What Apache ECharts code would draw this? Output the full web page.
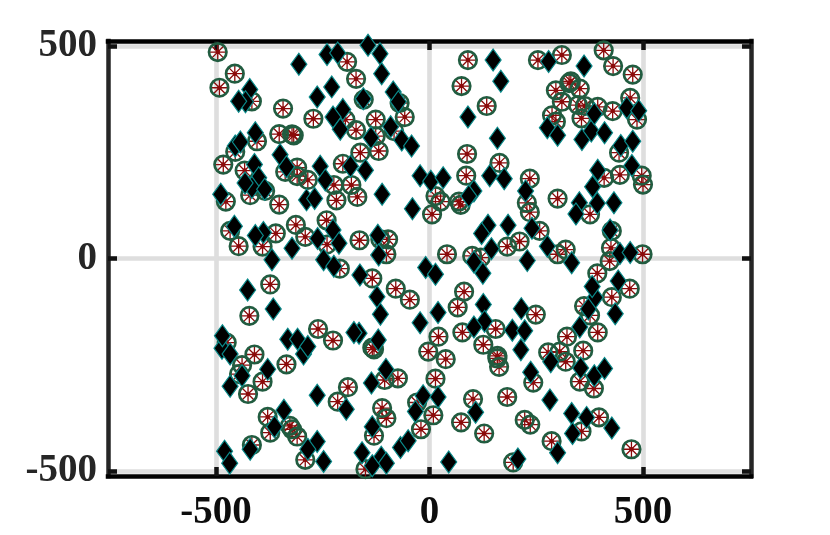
<!DOCTYPE html>
<html><head><meta charset="utf-8">
<style>html,body{margin:0;padding:0;background:#fff}#c{width:830px;height:535px}</style>
<script src="https://cdn.jsdelivr.net/npm/echarts@6/dist/echarts.min.js"></script>
</head><body><div id="c"></div>
<script>
const tickValues = [-500, 0, 500];
const wheelTopLeft = [[-496,486],[-456,435],[-492,402],[-416,370],[-343,353],[-272,329],[-172,423],[-154,374],[-70,366],[-58,333],[-126,327],[-197,327],[-193,463],[-172,302],[-83,300],[-126,288],[-352,293],[-322,292],[-318,290],[-404,276],[-455,251],[-483,221],[-162,249],[-119,253],[-203,223],[-433,207],[-310,214],[-338,204],[-310,194],[-285,185],[-224,173],[-183,173],[-169,145],[-218,137],[-420,149],[-385,159],[-352,127],[-477,134],[-313,79],[-241,90],[-467,65],[-447,29],[-360,59],[-391,28],[-291,51],[-240,33],[-164,43],[-97,45],[-101,10],[-115,45]];
const wheelTopRight = [[90,467],[75,406],[134,359],[88,246],[164,225],[86,195],[235,188],[254,467],[310,479],[408,490],[430,453],[476,433],[296,396],[331,417],[327,413],[352,400],[310,369],[348,361],[364,359],[394,357],[429,347],[470,378],[486,327],[287,337],[296,322],[356,330],[444,249],[409,190],[446,197],[497,195],[500,174],[300,141],[228,131],[235,109],[376,104],[14,147],[26,134],[69,134],[73,126],[6,104],[258,65],[211,40],[182,28],[41,10],[100,6],[120,2],[300,10],[319,21],[425,25],[427,65],[499,10],[422,-6]];
const wheelBottomLeft = [[-210,-24],[-134,-47],[-79,-71],[-46,-97],[-373,-61],[-422,-135],[-261,-166],[-226,-193],[-335,-249],[-410,-226],[-475,-198],[-439,-251],[-446,-272],[-391,-290],[-425,-319],[-191,-303],[-215,-337],[-105,-286],[-74,-282],[-130,-214],[-134,-210],[-111,-352],[-101,-376],[-130,-417],[-379,-373],[-373,-410],[-327,-394],[-322,-402],[-310,-419],[-416,-439],[-291,-474],[-150,-496],[-3,-219],[-29,-339],[-20,-402]];
const wheelBottomRight = [[81,-78],[66,-115],[249,-132],[155,-166],[77,-174],[21,-184],[126,-203],[38,-237],[159,-229],[159,-235],[163,-255],[14,-283],[9,-369],[102,-331],[182,-326],[74,-386],[128,-412],[223,-380],[236,-391],[286,-430],[196,-480],[473,-449],[356,-407],[397,-374],[243,-292],[352,-290],[385,-306],[360,-217],[278,-221],[305,-219],[319,-243],[322,-184],[394,-174],[376,-134],[362,-112],[427,-91],[469,-71],[393,-35]];
const diamondTopLeft = [[-306,457],[-240,480],[-215,484],[-144,502],[-116,482],[-112,435],[-229,404],[-263,380],[-421,398],[-431,369],[-447,370],[-155,376],[-85,392],[-73,369],[-203,351],[-226,333],[-209,304],[-91,310],[-137,284],[-65,279],[-42,265],[-408,296],[-455,265],[-443,274],[-350,244],[-335,216],[-256,217],[-185,217],[-150,208],[-410,221],[-22,195],[3,182],[-400,190],[-416,167],[-432,178],[-386,163],[-489,151],[-244,185],[-111,151],[-288,138],[-269,141],[-40,117],[-457,76],[-389,61],[-408,54],[-262,47],[-226,67],[-212,36],[-121,55],[-322,24],[-369,-3],[-248,-3],[-119,8]];
const diamondTopRight = [[149,467],[279,464],[362,453],[167,417],[90,333],[159,283],[276,308],[300,290],[357,280],[379,300],[410,296],[386,341],[462,355],[490,348],[448,266],[476,276],[474,219],[394,208],[32,190],[141,195],[175,188],[225,159],[382,169],[351,131],[393,130],[432,131],[343,105],[104,159],[92,147],[137,78],[122,59],[184,78],[240,71],[423,67],[145,23],[276,29],[229,-5],[104,-8],[333,-10],[446,12],[470,14]];
const diamondBottomLeft = [[-224,-18],[-163,-39],[-426,-74],[-366,-119],[-123,-90],[-115,-131],[-22,-151],[-9,-21],[-486,-211],[-485,-182],[-467,-225],[-332,-190],[-309,-190],[-295,-225],[-285,-207],[-165,-176],[-177,-174],[-120,-192],[-467,-301],[-439,-276],[-379,-261],[-263,-322],[-195,-355],[-136,-293],[-102,-261],[-33,-360],[-15,-323],[-341,-357],[-363,-396],[-420,-449],[-263,-431],[-285,-449],[-248,-478],[-480,-454],[-468,-482],[-134,-396],[-158,-457],[-113,-468],[-101,-482],[-134,-488],[-68,-445],[-50,-429]];
const diamondBottomRight = [[14,-37],[125,-35],[442,-53],[388,-92],[381,-66],[435,-130],[372,-119],[126,-108],[20,-127],[215,-118],[129,-148],[104,-161],[194,-169],[223,-170],[214,-215],[352,-161],[284,-243],[386,-276],[354,-258],[410,-259],[237,-268],[282,-333],[20,-326],[108,-362],[333,-365],[368,-374],[427,-399],[335,-412],[300,-457],[45,-479],[207,-472]];

const wheels = [...wheelTopLeft, ...wheelTopRight, ...wheelBottomLeft, ...wheelBottomRight];
const diamonds = [...diamondTopLeft, ...diamondTopRight, ...diamondBottomLeft, ...diamondBottomRight];

const spokes = 'path://M50 0L50 100M0 50L100 50M15 15L85 85M15 85L85 15';
const font = {fontFamily:'"Liberation Serif"',fontWeight:'bold',fontSize:39};
const xRange = 753, yRange = 512;
function axis(pos, range, labels, color, margin, textColor){
  return {
    type:'value', position:pos, min:-range, max:range,
    axisLine:{show:true,onZero:false,lineStyle:{color,width:4.5,cap:'square'}},
    axisTick:{show:true,inside:true,length:9,customValues:tickValues,lineStyle:{color:'#111',width:4.5}},
    axisLabel:{show:labels,customValues:tickValues,margin,color:textColor,...font},
    splitLine:{show:labels,lineStyle:{color:'#dedede',width:4.6}},
    z:1
  };
}
const chart = echarts.init(document.getElementById('c'),null,{renderer:'canvas'});
const common = {type:'scatter',silent:true,clip:false};
chart.setOption({
  animation:false,
  backgroundColor:'#fff',
  grid:{left:108,right:79,top:41,bottom:59},
  xAxis:[axis('bottom',xRange,true,'#000',17,'#0d0d0d'),axis('top',xRange,false,'#000',0,'#0d0d0d')],
  yAxis:[axis('left',yRange,true,'#262626',11,'#262626'),axis('right',yRange,false,'#262626',0,'#262626')],
  series:[
    {...common,data:wheels,symbol:spokes,symbolSize:18,z:6,
     itemStyle:{color:'none',borderColor:'#8b0a0a',borderWidth:1.3,opacity:1}},
    {...common,data:wheels,symbol:'circle',symbolSize:4.5,z:6,
     itemStyle:{color:'#8b0a0a',opacity:1}},
    {...common,data:wheels,symbol:'circle',symbolSize:17.5,z:7,
     itemStyle:{color:'none',borderColor:'#215c40',borderWidth:2.7,opacity:1}},
    {...common,data:diamonds,symbol:'diamond',symbolSize:[16,22],z:8,
     itemStyle:{color:'#000',borderColor:'#0a8a8a',borderWidth:1.2,opacity:1}}
  ]
});
</script></body></html>
